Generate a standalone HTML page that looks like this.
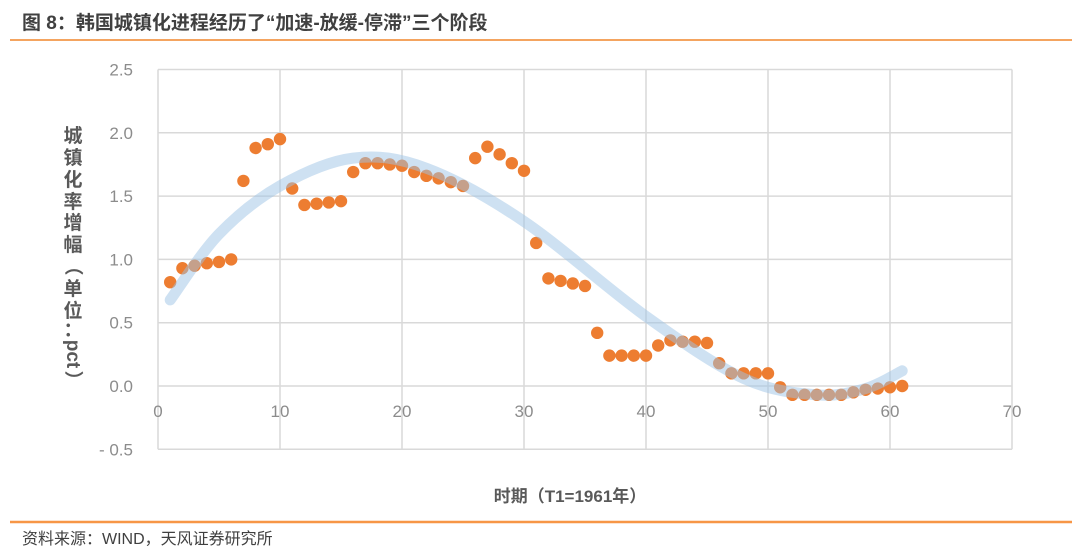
<!DOCTYPE html>
<html><head><meta charset="utf-8"><style>
body{margin:0;width:1080px;height:559px;background:#fff;overflow:hidden;font-family:"Liberation Sans","Noto Sans CJK SC",sans-serif;}
</style></head><body>
<svg id="s" width="1080" height="559" xmlns="http://www.w3.org/2000/svg" style="position:absolute;left:0;top:0">
<text x="22" y="29" font-size="19" font-weight="bold" fill="#404040" font-family="Liberation Sans,Noto Sans CJK SC,sans-serif">图 8：韩国城镇化进程经历了“加速-放缓-停滞”三个阶段</text>
<line x1="10" y1="40" x2="1072" y2="40" stroke="#F4A460" stroke-width="2"/>
<line x1="10" y1="522" x2="1072" y2="522" stroke="#F79646" stroke-width="2.5"/>
<text x="22" y="544" font-size="16" fill="#404040" font-family="Liberation Sans,Noto Sans CJK SC,sans-serif">资料来源：WIND，天风证券研究所</text>
<g id="grid" stroke="#d9d9d9" stroke-width="1.5"></g>
<g id="lab" font-size="17" fill="#8c8c8c" font-family="Liberation Sans,sans-serif"></g>
<g id="pts" fill="#ED7D31"></g>
<path id="cur" fill="none" stroke="#9DC3E6" stroke-opacity="0.5" stroke-width="11" stroke-linecap="round"/>
<text x="570" y="502" font-size="17" font-weight="bold" fill="#595959" text-anchor="middle" font-family="Liberation Sans,Noto Sans CJK SC,sans-serif">时期（T1=1961年）</text>
<g id="yt" font-size="19" font-weight="bold" fill="#595959" text-anchor="middle" font-family="Liberation Sans,Noto Sans CJK SC,sans-serif"></g>
</svg>
<script>
var ns="http://www.w3.org/2000/svg";
function X(v){return 158+v*12.2;}function Y(v){return 386-v*126.6;}
function el(p,t,a,txt){var e=document.createElementNS(ns,t);for(var k in a)e.setAttribute(k,a[k]);if(txt!=null)e.textContent=txt;document.getElementById(p).appendChild(e);}
for(var i=0;i<=7;i++){el("grid","line",{x1:X(i*10),x2:X(i*10),y1:Y(2.5),y2:Y(-0.5)});
el("lab","text",{x:X(i*10),y:417,"text-anchor":"middle"},String(i*10));}
for(var j=-1;j<=5;j++){var v=j*0.5;el("grid","line",{x1:X(0),x2:X(70),y1:Y(v),y2:Y(v)});
el("lab","text",{x:133,y:Y(v)+6,"text-anchor":"end"},(v<0?"- ":"")+Math.abs(v).toFixed(1));}
var d=[0.82,0.93,0.95,0.97,0.98,1.00,1.62,1.88,1.91,1.95,1.56,1.43,1.44,1.45,1.46,1.69,1.76,1.76,1.75,1.74,1.69,1.66,1.64,1.61,1.58,1.80,1.89,1.83,1.76,1.70,1.13,0.85,0.83,0.81,0.79,0.42,0.24,0.24,0.24,0.24,0.32,0.36,0.35,0.35,0.34,0.18,0.10,0.10,0.10,0.10,-0.01,-0.07,-0.07,-0.07,-0.07,-0.07,-0.05,-0.03,-0.02,-0.01,0.00];
d.forEach(function(v,i){el("pts","circle",{cx:X(i+1),cy:Y(v),r:6.2});});
var c=[[1,0.68],[5,1.2],[10,1.58],[16,1.8],[22,1.72],[30,1.3],[40,0.55],[48,0.06],[54,-0.07],[58,-0.02],[61,0.12]];
var p=c.map(function(q){return [X(q[0]),Y(q[1])];});
var s="M"+p[0][0]+","+p[0][1];
for(var k=0;k<p.length-1;k++){var p0=p[Math.max(k-1,0)],p1=p[k],p2=p[k+1],p3=p[Math.min(k+2,p.length-1)];
s+=" C"+(p1[0]+(p2[0]-p0[0])/6)+","+(p1[1]+(p2[1]-p0[1])/6)+" "+(p2[0]-(p3[0]-p1[0])/6)+","+(p2[1]-(p3[1]-p1[1])/6)+" "+p2[0]+","+p2[1];}
document.getElementById("cur").setAttribute("d",s);
var lbl=[["城",135],["镇",157],["化",179],["率",201],["增",222],["幅",244],["单",288],["位",310],["：",329]];
lbl.forEach(function(a){el("yt","text",{x:73,y:a[1]+7},a[0]);});
el("yt","text",{x:0,y:0,transform:"translate(73,266) rotate(90)",dy:"6"},"（");
el("yt","text",{x:0,y:0,transform:"translate(73,354) rotate(90)",dy:"6"},"pct");
el("yt","text",{x:0,y:0,transform:"translate(73,380) rotate(90)",dy:"6"},"）");
</script>
</body></html>
